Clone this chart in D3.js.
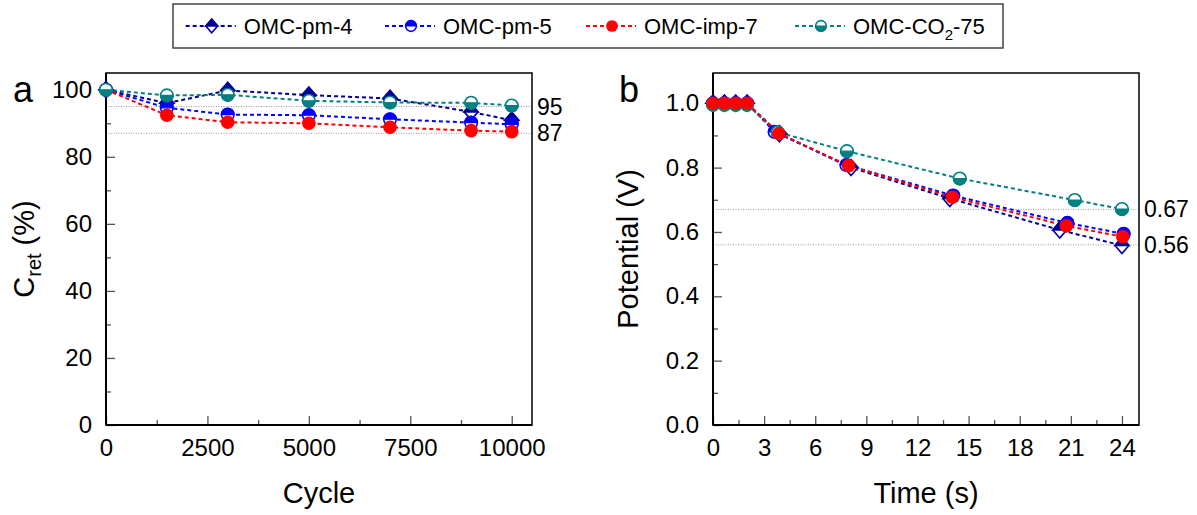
<!DOCTYPE html>
<html><head><meta charset="utf-8">
<script src="https://cdn.jsdelivr.net/npm/d3@7"></script>
<style>body{margin:0;background:#fff} text{font-family:"Liberation Sans",Arial,sans-serif;fill:#000}</style>
</head><body><svg id="c" width="1197" height="515"></svg>
<script>
// ---------- data ----------
const seriesNames = ["OMC-pm-4", "OMC-pm-5", "OMC-imp-7", "OMC-CO2-75"];
const cycles = [0, 1500, 3000, 5000, 7000, 9000, 10000];
const retPm4 = [100, 96.0, 99.8, 98.4, 97.4, 93.4, 90.9];
const retPm5 = [100, 94.6, 92.6, 92.4, 91.2, 90.2, 89.7];
const retImp7 = [100, 92.4, 90.3, 90.0, 88.8, 87.8, 87.5];
const retCO2 = [100, 98.3, 98.5, 96.7, 96.2, 96.1, 95.3];

const timePm4 = [0, 0.67, 1.33, 2.0, 3.9, 8.1, 13.9, 20.35, 24.0];
const potPm4 = [1.0, 1.0, 1.0, 1.0, 0.905, 0.80, 0.704, 0.606, 0.558];
const timePm5 = [0, 0.67, 1.33, 2.0, 3.62, 7.83, 14.1, 20.8, 24.1];
const potPm5 = [1.0, 1.0, 1.0, 1.0, 0.911, 0.808, 0.713, 0.628, 0.594];
const timeImp7 = [0, 0.67, 1.33, 2.0, 3.86, 7.96, 14.05, 20.74, 24.05];
const potImp7 = [1.0, 1.0, 1.0, 1.0, 0.906, 0.806, 0.708, 0.619, 0.585];
const timeCO2 = [0, 0.67, 1.33, 2.0, 3.8, 7.86, 14.48, 21.23, 24.0];
const potCO2 = [0.995, 0.995, 0.995, 0.995, 0.91, 0.851, 0.766, 0.699, 0.671];

const refRet = [95, 87];
const refRetLabels = ["95", "87"];
const refPot = [0.67, 0.56];
const refPotLabels = ["0.67", "0.56"];

const cycleTicks = [0, 2500, 5000, 7500, 10000];
const cycleMinor = [1250, 3750, 6250, 8750];
const retTicks = [0, 20, 40, 60, 80, 100];
const retMinor = [10, 30, 50, 70, 90];
const timeTicks = [0, 3, 6, 9, 12, 15, 18, 21, 24];
const timeMinor = [1.5, 4.5, 7.5, 10.5, 13.5, 16.5, 19.5, 22.5];
const potTicks = [0, 0.2, 0.4, 0.6, 0.8, 1.0];
const potMinor = [0.1, 0.3, 0.5, 0.7, 0.9];

// ---------- styles ----------
const colors = ["#000099", "#0000ff", "#ff0000", "#008080"];
const markers = ["diamondTop", "circleTop", "circleFull", "circleBottom"];

const svg = d3.select("#c");
const font = '"Liberation Sans",Arial,sans-serif';

function drawMarker(g, type, color, x, y, s) {
  const r = 6.3 * s;
  if (type === "diamondTop") {
    const w = 7 * s, h = 8 * s;
    g.append("path").attr("d", `M${x - w},${y}L${x},${y - h}L${x + w},${y}L${x},${y + h}Z`)
      .attr("fill", "#fff").attr("stroke", color).attr("stroke-width", 1.6);
    g.append("path").attr("d", `M${x - w},${y}L${x},${y - h}L${x + w},${y}Z`)
      .attr("fill", color).attr("stroke", color).attr("stroke-width", 1.6).attr("stroke-linejoin", "miter");
  } else if (type === "circleFull") {
    g.append("circle").attr("cx", x).attr("cy", y).attr("r", r + 0.5).attr("fill", color);
  } else {
    g.append("circle").attr("cx", x).attr("cy", y).attr("r", r)
      .attr("fill", "#fff").attr("stroke", color).attr("stroke-width", 1.6);
    const sweep = type === "circleTop" ? 1 : 0;
    g.append("path").attr("d", `M${x - r},${y}A${r},${r} 0 0 ${sweep} ${x + r},${y}Z`)
      .attr("fill", color).attr("stroke", color).attr("stroke-width", 1.2);
  }
}

function panel(opt) {
  const x = d3.scaleLinear().domain(opt.xDomain).range([opt.left, opt.right]);
  const y = d3.scaleLinear().domain(opt.yDomain).range([opt.bottom, opt.top]);
  const g = svg.append("g");

  // reference dotted lines
  opt.refs.forEach((v, i) => {
    g.append("line").attr("x1", opt.left).attr("x2", opt.right)
      .attr("y1", y(v)).attr("y2", y(v))
      .attr("stroke", "#9a9a9a").attr("stroke-width", 1).attr("stroke-dasharray", "1,1.5");
    g.append("text").attr("x", opt.right + 5).attr("y", y(v) + 8)
      .attr("font-size", 23).text(opt.refLabels[i]);
  });

  // axes
  const styleAxis = (a) => {
    a.select(".domain").remove();
    a.selectAll(".tick line").attr("stroke", "#555").attr("stroke-width", 1.3);
    a.selectAll(".tick text").attr("font-size", 24).attr("font-family", font).attr("fill", "#000");
  };
  g.append("g").attr("transform", `translate(0,${opt.bottom})`)
    .call(d3.axisBottom(x).tickValues(opt.xTicks).tickSize(-9).tickPadding(14).tickFormat(opt.xFmt))
    .call(styleAxis);
  g.append("g").attr("transform", `translate(0,${opt.bottom})`)
    .call(d3.axisBottom(x).tickValues(opt.xMinor).tickSize(-5).tickFormat(""))
    .call(styleAxis);
  g.append("g").attr("transform", `translate(${opt.left},0)`)
    .call(d3.axisLeft(y).tickValues(opt.yTicks).tickSize(-9).tickPadding(14).tickFormat(opt.yFmt))
    .call(styleAxis);
  g.append("g").attr("transform", `translate(${opt.left},0)`)
    .call(d3.axisLeft(y).tickValues(opt.yMinor).tickSize(-5).tickFormat(""))
    .call(styleAxis);

  // frame
  g.append("rect").attr("x", opt.left).attr("y", opt.top)
    .attr("width", opt.right - opt.left).attr("height", opt.bottom - opt.top)
    .attr("fill", "none").attr("stroke", "#000").attr("stroke-width", 1.5);
  g.append("line").attr("x1", opt.left).attr("x2", opt.right).attr("y1", opt.bottom).attr("y2", opt.bottom)
    .attr("stroke", "#000").attr("stroke-width", 2);
  g.append("line").attr("x1", opt.left).attr("x2", opt.left).attr("y1", opt.top).attr("y2", opt.bottom)
    .attr("stroke", "#000").attr("stroke-width", 2);

  // series
  const line = d3.line().x(d => x(d[0])).y(d => y(d[1]));
  opt.order.forEach(i => {
    const pts = opt.xs[i].map((v, k) => [v, opt.ys[i][k]]);
    g.append("path").datum(pts).attr("d", line).attr("fill", "none")
      .attr("stroke", colors[i]).attr("stroke-width", 2).attr("stroke-dasharray", "4,3");
  });
  opt.order.forEach(i => {
    const mg = g.append("g");
    opt.xs[i].forEach((v, k) => drawMarker(mg, markers[i], colors[i], x(v), y(opt.ys[i][k]), 1));
  });

  // panel letter
  g.append("text").attr("x", opt.letterX).attr("y", 102).attr("font-size", 36).text(opt.letter);

  // axis titles
  g.append("text").attr("x", (opt.left + opt.right) / 2).attr("y", 503)
    .attr("text-anchor", "middle").attr("font-size", 29).text(opt.xTitle);
  const yt = g.append("text").attr("transform", `translate(${opt.yTitleX},${(opt.top + opt.bottom) / 2}) rotate(-90)`)
    .attr("text-anchor", "middle").attr("font-size", 29);
  opt.yTitle(yt);
}

panel({
  left: 106, right: 532, top: 73, bottom: 425,
  xDomain: [0, 10500], yDomain: [0, 105],
  xTicks: cycleTicks, xMinor: cycleMinor, yTicks: retTicks, yMinor: retMinor,
  xFmt: d3.format("d"), yFmt: d3.format("d"),
  refs: refRet, refLabels: refRetLabels,
  xs: [cycles, cycles, cycles, cycles],
  ys: [retPm4, retPm5, retImp7, retCO2],
  order: [0, 1, 2, 3],
  letter: "a", letterX: 13,
  xTitle: "Cycle", yTitleX: 34,
  yTitle: t => {
    t.append("tspan").text("C");
    t.append("tspan").attr("font-size", 20).attr("dy", 7).text("ret");
    t.append("tspan").attr("dy", -7).text(" (%)");
  }
});

panel({
  left: 713, right: 1139, top: 73, bottom: 425,
  xDomain: [0, 25], yDomain: [0, 1.094],
  xTicks: timeTicks, xMinor: timeMinor, yTicks: potTicks, yMinor: potMinor,
  xFmt: d3.format("d"), yFmt: d3.format(".1f"),
  refs: refPot, refLabels: refPotLabels,
  xs: [timePm4, timePm5, timeImp7, timeCO2],
  ys: [potPm4, potPm5, potImp7, potCO2],
  order: [0, 1, 3, 2],
  letter: "b", letterX: 619,
  xTitle: "Time (s)", yTitleX: 638,
  yTitle: t => t.text("Potential (V)")
});

// ---------- legend ----------
const lg = svg.append("g");
lg.append("rect").attr("x", 173).attr("y", 4).attr("width", 830).attr("height", 44)
  .attr("fill", "#fff").attr("stroke", "#444").attr("stroke-width", 1.5);
const legendX = [211.7, 411, 612, 821];
seriesNames.forEach((name, i) => {
  const cx = legendX[i], cy = 26;
  lg.append("line").attr("x1", cx - 26).attr("x2", cx + 24).attr("y1", cy).attr("y2", cy)
    .attr("stroke", colors[i]).attr("stroke-width", 2).attr("stroke-dasharray", "4,3");
  const mg = lg.append("g");
  drawMarker(mg, markers[i], colors[i], cx, cy, 0.85);
  const t = lg.append("text").attr("x", cx + 32).attr("y", cy + 8).attr("font-size", 22);
  if (name.includes("CO2")) {
    t.append("tspan").text("OMC-CO");
    t.append("tspan").attr("font-size", 15).attr("dy", 6).text("2");
    t.append("tspan").attr("dy", -6).text("-75");
  } else {
    t.text(name);
  }
});
</script>
</body></html>
